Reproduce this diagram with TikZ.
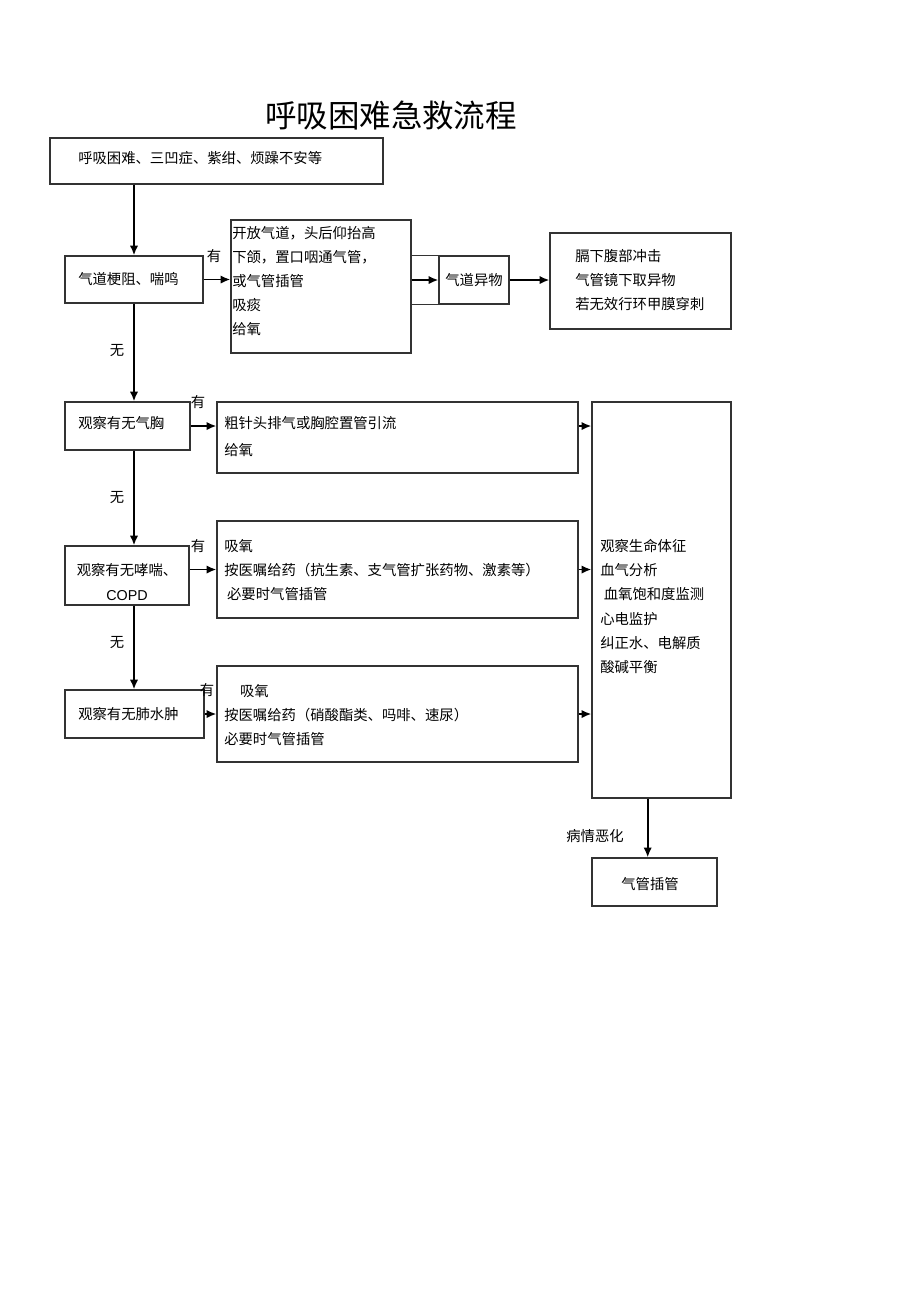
\documentclass[tikz,border=0pt]{standalone}
\usepackage{fontspec}
\setmainfont{Noto Sans CJK SC}
\newfontfamily\latinsans{Liberation Sans}
\usetikzlibrary{fit,arrows.meta}
\tikzset{
  box/.style={draw=black!80, line width=0.9pt, inner sep=0pt},
  txt/.style={anchor=west, align=left, inner sep=0pt, font=\fontsize{10.2pt}{17.2pt}\selectfont},
  lbl/.style={inner sep=0pt, font=\fontsize{10.2pt}{12pt}\selectfont},
  arr/.style={line width=1.3pt, -{Latex[length=7pt,width=6pt]}}
}
\begin{document}
\begin{tikzpicture}[x=0.025cm, y=-0.025cm]
\useasboundingbox (0,0) rectangle (920,1303);
\node[inner sep=0pt, font=\fontsize{22.4pt}{26pt}\selectfont] (title) at (391,116) {呼吸困难急救流程};

\node[box, fit={(50,138) (383,184)}] (b1) {};
\node[txt] (t1) at (78,158) {呼吸困难、三凹症、紫绀、烦躁不安等};
\node[box, fit={(65,256) (203,303)}] (b2) {};
\node[txt] (t2) at (78,279) {气道梗阻、喘鸣};
\node[box, fit={(231,220) (411,353)}] (b3) {};
\node[txt] (t3) at (232,281) {开放气道，头后仰抬高\\下颌，置口咽通气管，\\或气管插管\\吸痰\\给氧};
\node[box, fit={(439,256) (509,304)}] (yw) {};
\node[lbl] (tyw) at (yw.center) {气道异物};
\node[box, fit={(550,233) (731,329)}] (b4) {};
\node[txt] (t4) at (575,280) {膈下腹部冲击\\气管镜下取异物\\若无效行环甲膜穿刺};

\node[box, fit={(65,402) (190,450)}] (b5) {};
\node[txt] (t5) at (78,423) {观察有无气胸};
\node[box, fit={(217,402) (578,473)}] (b6) {};
\node[txt] (t6) at (224,436.5) {粗针头排气或胸腔置管引流\\[2pt]给氧};

\node[box, fit={(65,546) (189,605)}] (b7) {};
\node[txt, anchor=center, align=center] (t7) at (127,582) {观察有无哮喘、\\{\latinsans COPD}};
\node[box, fit={(217,521) (578,618)}] (b8) {};
\node[txt] (t8) at (224,570) {吸氧\\按医嘱给药（抗生素、支气管扩张药物、激素等）\\\hspace*{0.2em}必要时气管插管};

\node[box, fit={(65,690) (204,738)}] (b10) {};
\node[txt] (t10) at (78,714) {观察有无肺水肿};
\node[box, fit={(217,666) (578,762)}] (b11) {};
\node[txt] (t11) at (224,715) {\hspace*{1.1em}吸氧\\按医嘱给药（硝酸酯类、吗啡、速尿）\\必要时气管插管};

\node[box, fit={(592,402) (731,798)}] (b9) {};
\node[txt] (t9) at (600,606.5) {观察生命体征\\血气分析\\\hspace*{0.25em}血氧饱和度监测\\心电监护\\纠正水、电解质\\酸碱平衡};
\node[box, fit={(592,858) (717,906)}] (b12) {};
\node[lbl] (t12) at (650,884) {气管插管};

\node[lbl] (y1) at (214,256) {有};
\node[lbl] (y2) at (198,402) {有};
\node[lbl] (y3) at (198,546) {有};
\node[lbl] (y4) at (207,690) {有};
\node[lbl] (n1) at (117,351) {无};
\node[lbl] (n2) at (117,498) {无};
\node[lbl] (n3) at (117,643) {无};
\node[lbl] (bq) at (595,836) {病情恶化};

\draw[arr] (b2.north |- b1.south) -- (b2.north);
\draw[arr] (b2.south) -- (b2.south |- b5.north);
\draw[arr] (b2.south |- b5.south) -- (b2.south |- b7.north);
\draw[arr] (b2.south |- b7.south) -- (b2.south |- b10.north);

\draw[arr] (b2.east) -- (b2.east -| b3.west);
\draw[black!80, line width=0.9pt] (b3.east |- yw.north) -- (yw.north west);
\draw[black!80, line width=0.9pt] (b3.east |- yw.south) -- (yw.south west);
\draw[arr] (b3.east |- yw.west) -- (yw.west);
\draw[arr] (yw.east) -- (yw.east -| b4.west);

\draw[arr] (b5.east) -- (b5.east -| b6.west);
\draw[arr] (b5.east -| b6.east) -- (b5.east -| b9.west);
\draw[arr] (b7.east |- b8.west) -- (b8.west);
\draw[arr] (b8.east) -- (b8.east -| b9.west);
\draw[arr] (b10.east) -- (b11.west);
\draw[arr] (b11.east) -- (b11.east -| b9.west);

\coordinate (c12) at ([xshift=-0.17cm]b12.north);
\draw[arr] (c12 |- b9.south) -- (c12);
\end{tikzpicture}
\end{document}
